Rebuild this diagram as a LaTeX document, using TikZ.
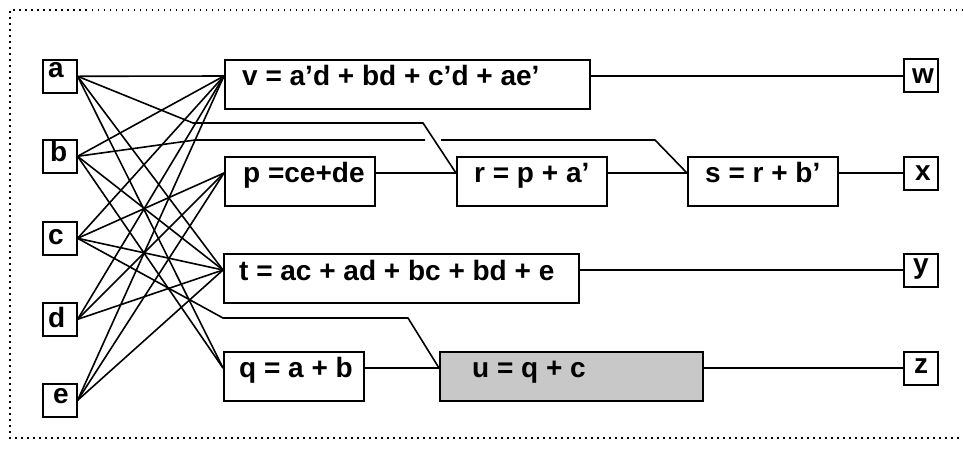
\documentclass[tikz,border=0pt]{standalone}
\usepackage{fontspec}
\setmainfont{Liberation Sans}
\definecolor{ugray}{RGB}{200,200,200}
\begin{document}
\begin{tikzpicture}[x=1pt,y=-1pt,
  wire/.style={line width=1.6pt},
  iobox/.style={draw, line width=1.6pt, anchor=north west, minimum width=34pt, minimum height=33pt, inner sep=0pt},
  fnbox/.style={draw, line width=1.6pt, anchor=north west, minimum height=49pt, inner sep=0pt},
  txt/.style={anchor=base west, inner sep=0pt, font=\fontsize{28pt}{33pt}\selectfont\bfseries},
  frame/.style={line width=1.5pt, dash pattern=on 1.5pt off 4.5pt}
]
\useasboundingbox (0,0) rectangle (963,448);
\draw[frame] (975,10) -- (10,10) -- (10,438) -- (975,438);

% input boxes
\node[iobox] (a) at (42,59) {};
\node[iobox] (b) at (42,139) {};
\node[iobox] (c) at (42,221) {};
\node[iobox] (d) at (42,302) {};
\node[iobox] (e) at (42,383) {};
% output boxes
\node[iobox] (w) at (903,58) {};
\node[iobox] (x) at (903,156) {};
\node[iobox] (y) at (903,253) {};
\node[iobox] (z) at (903,351) {};
% function boxes
\node[fnbox, minimum width=365pt] (v) at (224,59) {};
\node[fnbox, minimum width=150pt] (p) at (224,156) {};
\node[fnbox, minimum width=150pt] (r) at (456,156) {};
\node[fnbox, minimum width=150pt] (s) at (687,156) {};
\node[fnbox, minimum width=355pt] (t) at (223,253) {};
\node[fnbox, minimum width=140pt] (q) at (223,351) {};
\node[fnbox, minimum width=263pt, fill=ugray] (u) at (439,351) {};

% pins
\foreach \n in {v,p,r,s,t,q,u}{
  \coordinate (\n L) at ([yshift=-17pt]\n.north west);
  \coordinate (\n R) at ([yshift=-17pt]\n.north east);
}

% texts
\node[txt] (la) at (48,77) {a};
\node[txt] (lb) at (50,161) {b};
\node[txt] (lc) at (48,244) {c};
\node[txt] (ld) at (48,327) {d};
\node[txt] (le) at (53,403) {e};
\node[txt] (lw) at (912,83) {w};
\node[txt] (lx) at (915,180) {x};
\node[txt] (ly) at (913,273) {y};
\node[txt] (lz) at (914,373) {z};
\node[txt] (lv) at (242,85) {v = a’d + bd + c’d + ae’};
\node[txt] (lp) at (243,182) {p =ce+de};
\node[txt] (lr) at (474,182) {r = p + a’};
\node[txt] (ls) at (705,182) {s = r + b’};
\node[txt] (lt) at (239,280) {t = ac + ad + bc + bd + e};
\node[txt] (lq) at (239,377) {q = a + b};
\node[txt] (lu) at (472,377) {u = q + c};

% bend points
\coordinate (ar1) at (193,123);
\coordinate (ar2) at (423,123);
\coordinate (bs1) at (195,140);
\coordinate (bs2) at (425,140);
\coordinate (bs3) at (441,140);
\coordinate (bs4) at (655,140);
\coordinate (cu1) at (223,318);
\coordinate (cu2) at (408,318);

% input wires
\foreach \s in {a,b,c,d,e} \draw[wire] (\s.east) -- (vL);
\foreach \s in {c,d,e} \draw[wire] (\s.east) -- (pL);
\foreach \s in {a,b,c,d,e} \draw[wire] (\s.east) -- (tL);
\foreach \s in {a,b} \draw[wire] (\s.east) -- (qL);
\draw[wire] (a.east) -- (ar1) -- (ar2) -- (rL);
\draw[wire] (b.east) -- (bs1) -- (bs2);
\draw[wire] (bs3) -- (bs4) -- (sL);
\draw[wire] (c.east) -- (cu1) -- (cu2) -- (uL);

% internal / output wires
\draw[wire] (vR) -- (vR -| w.west);
\draw[wire] (pR) -- (rL);
\draw[wire] (rR) -- (sL);
\draw[wire] (sR) -- (sR -| x.west);
\draw[wire] (tR) -- (tR -| y.west);
\draw[wire] (qR) -- (uL);
\draw[wire] (uR) -- (uR -| z.west);
\end{tikzpicture}
\end{document}
